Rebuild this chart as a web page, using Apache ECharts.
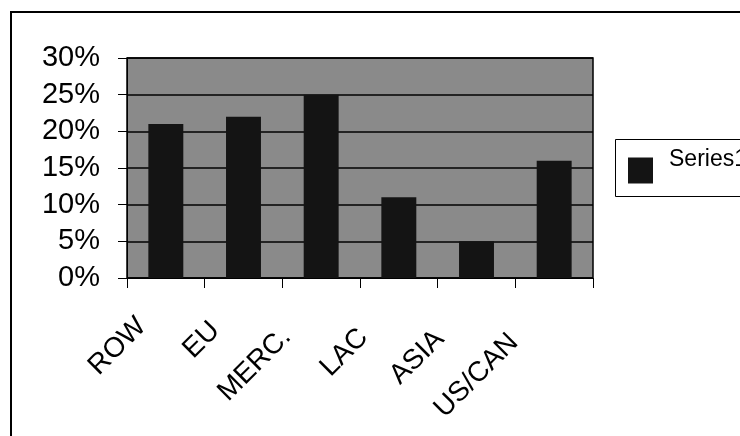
<!DOCTYPE html>
<html>
<head>
<meta charset="utf-8">
<script src="https://cdn.jsdelivr.net/npm/echarts@6/dist/echarts.min.js"></script>
<style>
  html, body { margin: 0; padding: 0; background: #ffffff; }
  #chart { width: 740px; height: 436px; }
</style>
</head>
<body>
<div id="chart"></div>
<script>
// Share by region
const categories = ['ROW', 'EU', 'MERC.', 'LAC', 'ASIA', 'US/CAN'];
const series1 = [0.21, 0.22, 0.25, 0.11, 0.05, 0.16];
const seriesName = 'Series1';
const yTicks = [0, 0.05, 0.10, 0.15, 0.20, 0.25, 0.30];

// Per-label padding [top, right, bottom, left] nudging each slanted category label
const labelPadding = [
  [18, 34, 0, 0],
  [0, 40, 6, 0],
  [4, 49, 0, 0],
  [0, 50, 14, 0],
  [0, 52, 18, 0],
  [0, 57, 34, 0]
];

const FONT = '"Liberation Sans", Arial, Helvetica, sans-serif';

const chart = echarts.init(document.getElementById('chart'), null, { renderer: 'canvas' });

chart.setOption({
  backgroundColor: '#ffffff',
  animation: false,
  grid: {
    left: 127, right: 147, top: 58, bottom: 158,
    show: true,
    backgroundColor: '#8a8a8a',
    borderColor: '#000000',
    borderWidth: 1.5
  },
  legend: {
    data: [seriesName],
    left: 628, top: 148,
    orient: 'vertical',
    padding: 0,
    itemWidth: 25,
    itemHeight: 26,
    icon: 'rect',
    itemStyle: { color: '#141414' },
    formatter: name => '{a|' + name + '}',
    textStyle: {
      fontFamily: FONT, fontSize: 23, color: '#000000',
      rich: {
        a: { fontFamily: FONT, fontSize: 23, color: '#000000', padding: [0, 0, 22, 11] }
      }
    }
  },
  xAxis: {
    type: 'category',
    data: categories.map((c, i) => ({
      value: c,
      textStyle: { padding: labelPadding[i] }
    })),
    boundaryGap: true,
    axisLine: { show: true, lineStyle: { color: '#000000', width: 1 } },
    axisTick: { show: true, alignWithLabel: false, length: 10, lineStyle: { color: '#000000' } },
    axisLabel: {
      interval: 0, rotate: 45, margin: 20,
      fontFamily: FONT, fontSize: 28, color: '#000000'
    },
    splitLine: { show: false }
  },
  yAxis: {
    type: 'value',
    min: yTicks[0], max: yTicks[yTicks.length - 1], interval: 0.05,
    axisLine: { show: true, lineStyle: { color: '#000000', width: 1 } },
    axisTick: { show: true, inside: false, length: 9, lineStyle: { color: '#000000' } },
    axisLabel: {
      margin: 27,
      fontFamily: FONT, fontSize: 29, color: '#000000',
      formatter: v => Math.round(v * 100) + '%'
    },
    splitLine: { show: true, lineStyle: { color: '#000000', width: 1.5 } }
  },
  series: [{
    name: seriesName,
    type: 'bar',
    data: series1,
    barWidth: '45%',
    itemStyle: { color: '#141414' }
  }],
  graphic: [
    {
      // chart frame
      type: 'rect',
      silent: true,
      z: -10,
      shape: { x: 11, y: 12, width: 760, height: 460 },
      style: { fill: 'none', stroke: '#000000', lineWidth: 2 }
    },
    {
      // legend box
      type: 'rect',
      silent: true,
      z: -5,
      shape: { x: 615.5, y: 139.5, width: 140, height: 57 },
      style: { fill: '#ffffff', stroke: '#000000', lineWidth: 1 }
    }
  ]
});
</script>
</body>
</html>
